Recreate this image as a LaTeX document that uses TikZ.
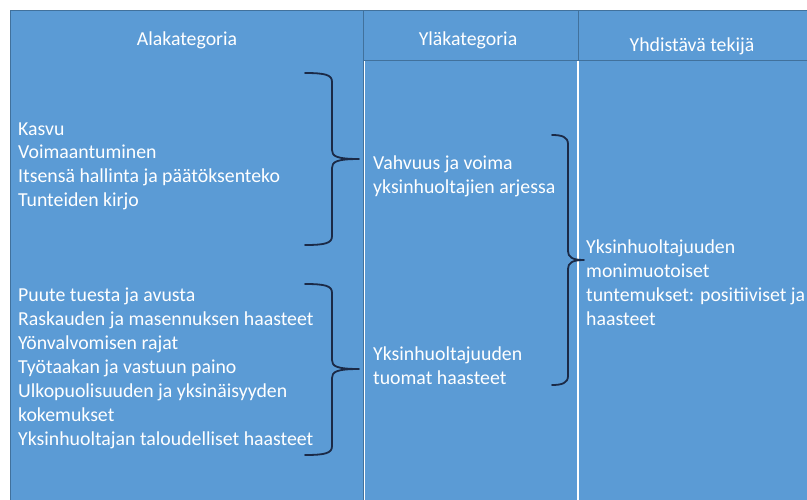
\documentclass[tikz,border=0pt]{standalone}
\usepackage{fontspec}
\setmainfont{Carlito}
\definecolor{cellblue}{HTML}{5B9BD5}
\definecolor{celledge}{HTML}{41719C}
\definecolor{bracecol}{HTML}{1B2A47}
\newcommand\mybrace[6]{% x0 x1 x2 yt ym yb
  \draw[bracestyle] (#1,#4) .. controls ({#2-6},#4) and (#2,{#4+2}) .. (#2,{#4+9})
    -- (#2,{#5-9}) .. controls (#2,{#5-3}) and ({#2+4},#5) .. (#3,#5)
    .. controls ({#2+4},#5) and (#2,{#5+3}) .. (#2,{#5+9})
    -- (#2,{#6-9}) .. controls (#2,{#6-2}) and ({#2-6},#6) .. (#1,#6);}
\tikzset{
  bracestyle/.style={draw=bracecol, line width=1.8pt, line cap=round, line join=round},
  headcell/.style={fill=cellblue, draw=celledge, line width=0.9pt},
  bodycell/.style={fill=cellblue, draw=white, line width=1.4pt},
  txt/.style={text=white, font=\fontsize{19.8}{23.9}\selectfont, inner sep=0pt, align=left, anchor=base west},
  headtxt/.style={text=white, font=\fontsize{19.8}{23.9}\selectfont, inner sep=0pt, anchor=base}
}
\begin{document}
\begin{tikzpicture}[x=1pt,y=-1pt]
\useasboundingbox (0,0) rectangle (807,499);
\fill[white] (0,0) rectangle (807,499);
% right table body cells
\path[bodycell] (364,60) rectangle (578,520);
\path[bodycell] (578,60) rectangle (820,520);
% right table header cells
\path[headcell] (363,10) rectangle (578,60);
\path[headcell] (578,10) rectangle (820,60);
% left table
\path[headcell] (10,10) rectangle (363,66);
\path[fill=cellblue, draw=celledge, line width=0.9pt] (10,66) -- (10,520) -- (363,520) -- (363,66);
% headers
\node[headtxt] (h1) at (187,45) {Alakategoria};
\node[headtxt] (h2) at (468,45) {Yläkategoria};
\node[headtxt] (h3) at (692,51) {Yhdistävä tekijä};
% texts (base = baseline of last line)
\node[txt] (a1) at (18,206.7) {Kasvu\\Voimaantuminen\\Itsensä hallinta ja päätöksenteko\\Tunteiden kirjo};
\node[txt] (a2) at (18,445) {Puute tuesta ja avusta\\Raskauden ja masennuksen haasteet\\Yönvalvomisen rajat\\Työtaakan ja vastuun paino\\Ulkopuolisuuden ja yksinäisyyden\\kokemukset\\Yksinhuoltajan taloudelliset haasteet};
\node[txt] (b1) at (373,193.3) {Vahvuus ja voima\\yksinhuoltajien arjessa};
\node[txt] (b2) at (373,384) {Yksinhuoltajuuden\\tuomat haasteet};
\node[txt] (c1) at (586,325) {Yksinhuoltajuuden\\monimuotoiset\\tuntemukset: positiiviset ja\\haasteet};
% braces
\mybrace{305}{332}{359}{73}{159}{245}
\mybrace{305}{332}{359}{284}{369}{455}
\mybrace{552}{568}{584}{135}{260}{385}
\end{tikzpicture}
\end{document}
